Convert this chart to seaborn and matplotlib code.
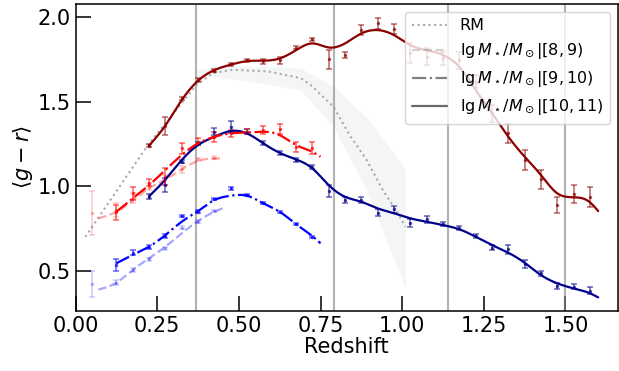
import numpy as np
import pandas as pd
import matplotlib
matplotlib.use('Agg')
import matplotlib.pyplot as plt
from matplotlib.lines import Line2D
import seaborn as sns

# ------------------------------------------------
# data
# ------------------------------------------------
z_bins = [0.225, 0.275, 0.325, 0.375, 0.425, 0.475, 0.525, 0.575, 0.625, 0.675,
          0.725, 0.775, 0.825, 0.875, 0.925, 0.975, 1.025, 1.075, 1.125, 1.175,
          1.225, 1.275, 1.325, 1.375, 1.425, 1.475, 1.525, 1.575]
z_mid = [0.125, 0.175, 0.225, 0.275, 0.325, 0.375, 0.425, 0.475, 0.525, 0.575,
         0.625, 0.675, 0.725]
z_low = [0.05, 0.125, 0.175, 0.225, 0.275, 0.325, 0.375, 0.425]

# lgM [10,11)
hi_red = [1.240, 1.356, 1.520, 1.629, 1.684, 1.722, 1.745, 1.739, 1.747, 1.820,
          1.870, 1.751, 1.777, 1.925, 1.964, 1.929, 1.790, 1.767, 1.757, 1.747,
          1.620, 1.432, 1.313, 1.155, 1.041, 0.889, 0.952, 0.938]
hi_red_err = [0.010, 0.055, 0.010, 0.010, 0.008, 0.008, 0.010, 0.012, 0.020, 0.008,
              0.010, 0.056, 0.020, 0.030, 0.035, 0.030, 0.060, 0.050, 0.040, 0.050,
              0.040, 0.050, 0.055, 0.060, 0.055, 0.050, 0.054, 0.060]
hi_blue = [0.938, 1.007, 1.145, 1.254, 1.323, 1.352, 1.323, 1.254, 1.195, 1.155,
           1.116, 0.972, 0.918, 0.918, 0.843, 0.863, 0.784, 0.804, 0.774, 0.751,
           0.705, 0.636, 0.626, 0.539, 0.484, 0.409, 0.405, 0.381]
hi_blue_err = [0.015, 0.040, 0.010, 0.010, 0.020, 0.035, 0.015, 0.012, 0.012, 0.010,
               0.012, 0.035, 0.020, 0.020, 0.020, 0.020, 0.025, 0.020, 0.012, 0.012,
               0.010, 0.015, 0.025, 0.025, 0.015, 0.020, 0.015, 0.020]

# lgM [9,10)
mid_red = [0.845, 0.958, 1.022, 1.056, 1.224, 1.264, 1.293, 1.313, 1.323, 1.333,
           1.340, 1.234, 1.229]
mid_red_err = [0.045, 0.040, 0.020, 0.050, 0.030, 0.020, 0.030, 0.020, 0.015, 0.025,
               0.030, 0.030, 0.035]
mid_blue = [0.533, 0.605, 0.640, 0.705, 0.824, 0.849, 0.927, 0.988, 0.948, 0.902,
            0.849, 0.778, 0.701]
mid_blue_err = [0.035, 0.015, 0.010, 0.010, 0.008, 0.008, 0.006, 0.008, 0.006, 0.006,
                0.006, 0.006, 0.006]

# lgM [8,9)
low_red = [0.840, 0.860, 0.930, 0.997, 1.037, 1.100, 1.160, 1.170]
low_red_err = [0.130, 0.040, 0.030, 0.020, 0.030, 0.020, 0.010, 0.010]
low_blue = [0.421, 0.429, 0.504, 0.567, 0.632, 0.754, 0.790, 0.853]
low_blue_err = [0.075, 0.015, 0.010, 0.010, 0.010, 0.010, 0.008, 0.006]

# smooth fit curves (knots)
hi_knot_z = z_bins + [1.600]
hi_red_fit = [1.240, 1.360, 1.510, 1.625, 1.688, 1.720, 1.741, 1.744, 1.757, 1.806,
              1.846, 1.822, 1.846, 1.905, 1.925, 1.895, 1.836, 1.806, 1.777, 1.707,
              1.570, 1.433, 1.293, 1.175, 1.066, 0.958, 0.935, 0.905, 0.853]
hi_blue_fit = [0.940, 1.040, 1.155, 1.244, 1.293, 1.327, 1.313, 1.254, 1.198, 1.159,
               1.106, 1.007, 0.938, 0.908, 0.869, 0.840, 0.810, 0.790, 0.770, 0.745,
               0.701, 0.652, 0.606, 0.547, 0.474, 0.425, 0.395, 0.366, 0.342]
mid_knot_z = z_mid + [0.750]
mid_red_fit = [0.849, 0.928, 1.007, 1.096, 1.185, 1.254, 1.293, 1.313, 1.319, 1.323,
               1.303, 1.244, 1.204, 1.175]
mid_blue_fit = [0.544, 0.593, 0.642, 0.711, 0.790, 0.853, 0.918, 0.944, 0.944, 0.899,
                0.849, 0.776, 0.705, 0.662]
low_knot_z = [0.07, 0.125, 0.175, 0.225, 0.275, 0.325, 0.375, 0.425, 0.45]
low_red_fit = [0.810, 0.849, 0.914, 0.988, 1.040, 1.100, 1.150, 1.165, 1.165]
low_blue_fit = [0.388, 0.429, 0.504, 0.573, 0.642, 0.721, 0.794, 0.849, 0.869]

# RM
rm_z = [0.03, 0.22, 0.37, 0.42, 0.48, 0.59, 0.69, 0.72, 0.79, 0.84, 0.89, 0.94, 0.99, 1.01]
rm_val = [0.70, 1.24, 1.60, 1.67, 1.69, 1.68, 1.64, 1.60, 1.47, 1.30, 1.16, 0.98, 0.83, 0.76]
band_z = [0.37, 0.42, 0.54, 0.69, 0.79, 0.89, 1.01]
band_hi = [1.69, 1.71, 1.71, 1.70, 1.59, 1.41, 1.10]
band_lo = [1.64, 1.65, 1.62, 1.57, 1.35, 0.98, 0.40]

vlines_z = [0.37, 0.79, 1.14, 1.50]


def spline(x, y, n=300):
    # natural cubic spline through the knots
    x = np.asarray(x, float)
    y = np.asarray(y, float)
    h = np.diff(x)
    k = len(x)
    A = np.zeros((k, k))
    b = np.zeros(k)
    A[0, 0] = A[-1, -1] = 1
    for i in range(1, k - 1):
        A[i, i - 1] = h[i - 1]
        A[i, i] = 2 * (h[i - 1] + h[i])
        A[i, i + 1] = h[i]
        b[i] = 3 * ((y[i + 1] - y[i]) / h[i] - (y[i] - y[i - 1]) / h[i - 1])
    c = np.linalg.solve(A, b)
    xs = np.linspace(x[0], x[-1], n)
    i = np.clip(np.searchsorted(x, xs) - 1, 0, k - 2)
    dx = xs - x[i]
    bc = (y[i + 1] - y[i]) / h[i] - h[i] * (2 * c[i] + c[i + 1]) / 3
    d = (c[i + 1] - c[i]) / (3 * h[i])
    return xs, y[i] + bc * dx + c[i] * dx ** 2 + d * dx ** 3


# ------------------------------------------------
# figure
# ------------------------------------------------
sns.set_style('ticks', {'xtick.direction': 'in', 'ytick.direction': 'in',
                        'axes.edgecolor': 'black', 'text.color': 'black',
                        'axes.labelcolor': 'black', 'xtick.color': 'black',
                        'ytick.color': 'black'})
plt.rcParams['font.family'] = ['DejaVu Sans']
plt.rcParams['mathtext.fontset'] = 'dejavusans'

fig = plt.figure(figsize=(6.19, 3.71), dpi=100)
ax = fig.add_axes([0.122, 0.1625, 0.876, 0.8265])

for zv in vlines_z:
    ax.axvline(zv, color='gray', alpha=0.6, lw=1.5, zorder=1)

ax.fill_between(band_z, band_lo, band_hi, color='darkslategray', alpha=0.05,
                lw=0, zorder=0)
ax.plot(rm_z, rm_val, ':', color='darkgray', lw=1.5, zorder=2)

series = [
    (hi_knot_z, hi_red_fit, z_bins, hi_red, hi_red_err, 'darkred', '-', 1.0),
    (hi_knot_z, hi_blue_fit, z_bins, hi_blue, hi_blue_err, 'darkblue', '-', 1.0),
    (mid_knot_z, mid_red_fit, z_mid, mid_red, mid_red_err, 'red', '-.', 1.0),
    (mid_knot_z, mid_blue_fit, z_mid, mid_blue, mid_blue_err, 'blue', '-.', 1.0),
    (low_knot_z, low_red_fit, z_low, low_red, low_red_err, 'red', '--', 0.35),
    (low_knot_z, low_blue_fit, z_low, low_blue, low_blue_err, 'blue', '--', 0.35),
]

for kz, kv, pz, pv, pe, col, ls, a in series:
    xs, ys = spline(kz, kv)
    df = pd.DataFrame({'z': xs, 'gr': ys})
    sns.lineplot(data=df, x='z', y='gr', color=col, linestyle=ls, lw=1.6,
                 alpha=a, sort=False, estimator=None, ax=ax, zorder=3)
    ax.errorbar(pz, pv, yerr=pe, fmt='.', color=col, ms=3, elinewidth=1.1,
                capsize=2, capthick=1.1, alpha=0.6 * a, zorder=2)

ax.set_xlim(0, 1.66)
ax.set_ylim(0.263, 2.079)
ax.set_xticks([0, 0.25, 0.5, 0.75, 1.0, 1.25, 1.5])
ax.set_yticks([0.5, 1.0, 1.5, 2.0])
ax.tick_params(labelsize=15, length=10.5, width=1.1, direction='in')
ax.set_xlabel('Redshift', fontsize=15, labelpad=1)
ax.set_ylabel(r'$\langle g-r\rangle$', fontsize=15, labelpad=2)
for s in ax.spines.values():
    s.set_linewidth(1.1)

handles = [
    Line2D([], [], ls=':', color='darkgray', lw=1.5),
    Line2D([], [], ls='--', color='gray', lw=1.6, alpha=0.35),
    Line2D([], [], ls='-.', color='gray', lw=1.6),
    Line2D([], [], ls='-', color='dimgray', lw=1.6),
]
labels = ['RM',
          r'$\lg M_\star/M_\odot|[8,9)$',
          r'$\lg M_\star/M_\odot|[9,10)$',
          r'$\lg M_\star/M_\odot|[10,11)$']
ax.legend(handles, labels, loc='upper right', fontsize=11.5, framealpha=0.8,
          borderaxespad=0.5, handlelength=2.2)

fig.savefig('out.png', dpi=100)
